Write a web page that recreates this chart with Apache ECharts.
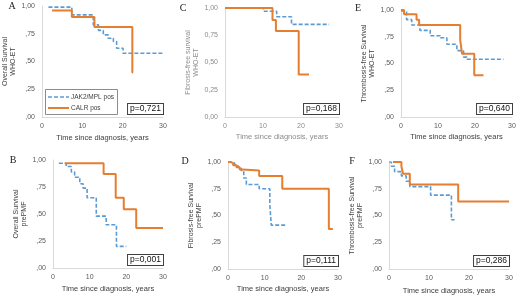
<!DOCTYPE html>
<html>
<head>
<meta charset="utf-8">
<script src="https://cdn.jsdelivr.net/npm/echarts@6/dist/echarts.min.js"></script>
<style>
  html, body { margin: 0; padding: 0; background: #fff; }
  #chart { width: 520px; height: 297px; }
</style>
</head>
<body>
<div id="chart"></div>
<script>
// [years, survival] pairs
const jakA = [[1.6, 0.99], [7.4, 0.92], [12.7, 0.83], [14.0, 0.78], [15.2, 0.74], [16.4, 0.71], [17.7, 0.68], [18.5, 0.62], [20.1, 0.575], [30, 0.575]]
const calrA = [[2.5, 0.96], [7.4, 0.90], [13.0, 0.81], [22.4, 0.40], [22.6, 0.40]]

const jakB = [[1.6, 0.97], [3.6, 0.94], [5.0, 0.89], [5.9, 0.84], [7.3, 0.78], [8.2, 0.74], [9.3, 0.65], [11.8, 0.48], [14.5, 0.40], [17.3, 0.20], [20.0, 0.20]]
const calrB = [[3.2, 0.97], [13.8, 0.87], [17.1, 0.65], [19.3, 0.545], [22.7, 0.37], [30, 0.37]]

const jakC = [[0, 1.0], [10.1, 0.97], [13.6, 0.92], [17.5, 0.85], [27.4, 0.85]]
const calrC = [[0, 1.0], [12.5, 0.89], [13.4, 0.79], [19.4, 0.39], [22.1, 0.39]]

const jakD = [[0, 1.0], [0.9, 0.99], [1.8, 0.97], [2.7, 0.95], [3.6, 0.92], [4.3, 0.85], [5.0, 0.79], [8.5, 0.75], [11.4, 0.60], [11.8, 0.41], [15.9, 0.41]]
const calrD = [[0, 1.0], [0.7, 0.99], [1.4, 0.97], [2.3, 0.95], [3.2, 0.93], [3.9, 0.92], [8.5, 0.87], [14.8, 0.75], [27.5, 0.375], [28.6, 0.375]]

const jakE = [[0, 0.99], [1.5, 0.91], [2.9, 0.86], [5.1, 0.81], [7.9, 0.76], [10.6, 0.74], [12.4, 0.68], [15.1, 0.62], [16.9, 0.56], [17.8, 0.54], [27.7, 0.54]]
const calrE = [[0, 1.0], [0.8, 0.96], [4.2, 0.91], [4.9, 0.86], [16.0, 0.72], [16.5, 0.59], [19.8, 0.39], [22.3, 0.39]]

const jakF = [[0, 1.0], [0.6, 0.96], [1.4, 0.91], [3.1, 0.87], [4.3, 0.82], [5.2, 0.77], [10.4, 0.69], [15.6, 0.46], [16.4, 0.46]]
const calrF = [[1.0, 1.0], [3.1, 0.96], [3.5, 0.89], [5.2, 0.79], [17.3, 0.63], [30, 0.63]]

const pValues = ['p=0,721', 'p=0,001', 'p=0,168', 'p=0,111', 'p=0,640', 'p=0,286']
const yNames = [
  'Overall Survival\nWHO-ET',
  'Overall Survival\nprePMF',
  'Fibrosis-free survival\nWHO-ET',
  'Fibrosis-free Survival\nprePMF',
  'Thrombosis-free Survival\nWHO-ET',
  'Thrombosis-free Survival\nprePMF'
]
const letters = ['A', 'B', 'C', 'D', 'E', 'F']
const xName = 'Time since diagnosis, years'
const legendNames = ['JAK2/MPL pos', 'CALR pos']

const BLUE = '#5b9bd5'
const ORANGE = '#e67e30'
const FONT = 'Liberation Sans'

// layout per panel
const panels = [
  { jak: jakA, calr: calrA, grid: { left: 42, top: 6, width: 121, height: 111 }, nameGap: 19, xGap: 17, letter: [12, 6] },
  { jak: jakB, calr: calrB, grid: { left: 53, top: 160, width: 110, height: 108 }, nameGap: 22, xGap: 17, letter: [13, 160] },
  { jak: jakC, calr: calrC, grid: { left: 225, top: 8, width: 114, height: 109 }, nameGap: 21, xGap: 16, letter: [183, 8], light: true },
  { jak: jakD, calr: calrD, grid: { left: 228, top: 162, width: 110, height: 107 }, nameGap: 23, xGap: 16, letter: [185, 161] },
  { jak: jakE, calr: calrE, grid: { left: 401, top: 10, width: 111, height: 107 }, nameGap: 24, xGap: 16, letter: [358, 8] },
  { jak: jakF, calr: calrF, grid: { left: 389, top: 162, width: 120, height: 107 }, nameGap: 21, xGap: 18, letter: [352, 161] }
]

function yLabel(v, light) {
  if (light) return v.toFixed(2).replace('.', ',')
  if (v === 1) return '1,00'
  return ',' + String(Math.round(v * 100)).padStart(2, '0')
}

const grid = [], xAxis = [], yAxis = [], series = [], graphic = []

panels.forEach((p, i) => {
  const txt = p.light ? '#8c8c8c' : '#595959'
  const nameCol = p.light ? '#8c8c8c' : '#404040'
  grid.push(p.grid)
  xAxis.push({
    gridIndex: i, type: 'value', min: 0, max: 30, interval: 10,
    axisLine: { show: true, lineStyle: { color: '#d9d9d9' } },
    axisTick: { show: false },
    splitLine: { show: false },
    axisLabel: { fontSize: 7, color: txt, margin: 6, fontFamily: FONT },
    name: xName, nameLocation: 'middle', nameGap: p.xGap,
    nameTextStyle: { fontSize: 7.5, color: nameCol, fontFamily: FONT }
  })
  yAxis.push({
    gridIndex: i, type: 'value', min: 0, max: 1, interval: 0.25,
    axisLine: { show: true, lineStyle: { color: '#d9d9d9' } },
    axisTick: { show: false },
    splitLine: { show: false },
    axisLabel: { fontSize: 7, color: txt, margin: 7, fontFamily: FONT, formatter: v => yLabel(v, p.light) },
    name: yNames[i], nameLocation: 'middle', nameGap: p.nameGap,
    nameTextStyle: { fontSize: 7, color: nameCol, lineHeight: 8, fontFamily: FONT }
  })
  series.push({
    name: legendNames[0], type: 'line', step: 'end', xAxisIndex: i, yAxisIndex: i,
    data: p.jak, symbol: 'none',
    lineStyle: { color: BLUE, width: 1.6, type: [4, 2] }, itemStyle: { color: BLUE }
  })
  series.push({
    name: legendNames[1], type: 'line', step: 'end', xAxisIndex: i, yAxisIndex: i,
    data: p.calr, symbol: 'none',
    lineStyle: { color: ORANGE, width: 2 }, itemStyle: { color: ORANGE }
  })
  graphic.push({
    type: 'text', x: p.letter[0], y: p.letter[1],
    style: { text: letters[i], font: '10px "Liberation Serif"', fill: '#222', align: 'center', verticalAlign: 'middle' }
  })
  const g = p.grid
  graphic.push({
    type: 'text', x: g.left + g.width, y: g.top + g.height - 8,
    style: {
      text: pValues[i], font: '8.5px "Liberation Sans"', fill: '#111', align: 'right', verticalAlign: 'middle',
      borderColor: '#404040', borderWidth: 1, padding: [1, 2, 0, 2], backgroundColor: '#fff'
    }
  })
})

// legend frame and keys in panel A
graphic.push({
  type: 'rect', shape: { x: 45.5, y: 89.5, width: 72, height: 25 },
  style: { fill: '#fff', stroke: '#8c8c8c', lineWidth: 1 }, z: 10
})
const legendStyles = [
  { stroke: BLUE, lineWidth: 1.6, lineDash: [4, 2] },
  { stroke: ORANGE, lineWidth: 2 }
]
legendNames.forEach((n, k) => {
  const y = 97 + k * 11
  graphic.push({ type: 'line', shape: { x1: 48, y1: y, x2: 69, y2: y }, style: legendStyles[k], z: 11 })
  graphic.push({
    type: 'text', x: 71, y: y, z: 11,
    style: { text: n, font: '6.5px "Liberation Sans"', fill: '#404040', verticalAlign: 'middle' }
  })
})

const chart = echarts.init(document.getElementById('chart'), null, { renderer: 'canvas' })
chart.setOption({
  animation: false,
  backgroundColor: '#fff',
  grid: grid,
  xAxis: xAxis,
  yAxis: yAxis,
  series: series,
  graphic: graphic
})
</script>
</body>
</html>
